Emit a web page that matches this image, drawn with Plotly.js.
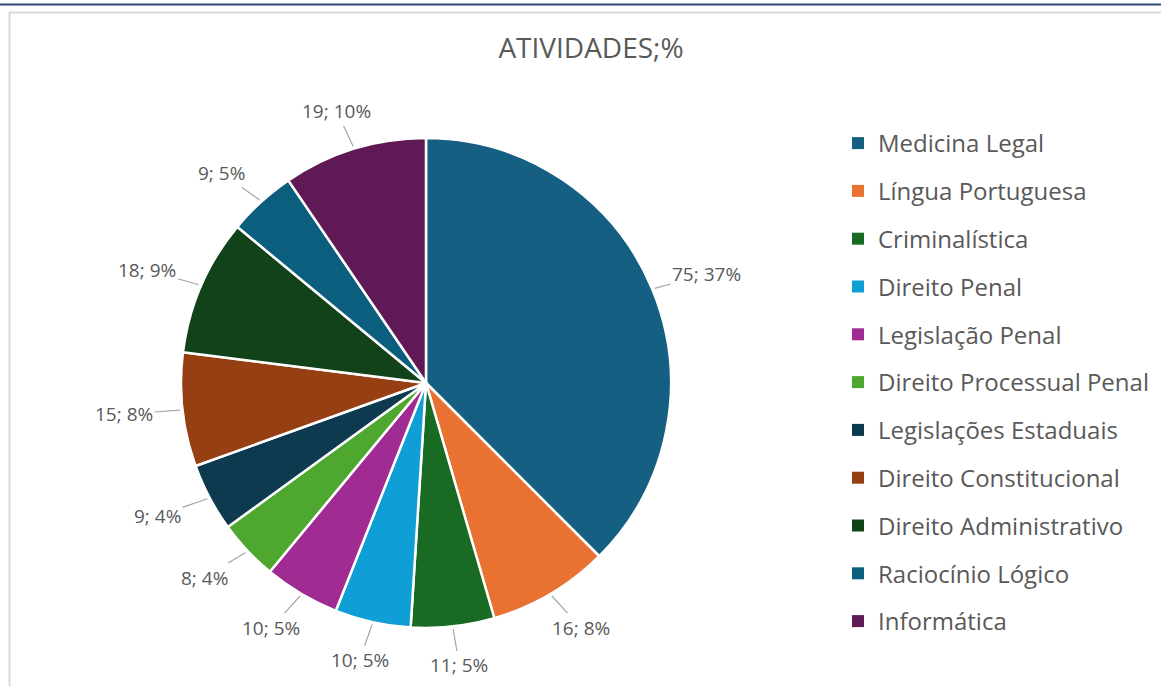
<!DOCTYPE html>
<html>
<head>
<meta charset="utf-8">
<script src="https://cdn.plot.ly/plotly-3.0.1.min.js"></script>
<style>html,body{margin:0;padding:0;background:#fff;}#chart{width:1161px;height:686px;}</style>
</head>
<body>
<div id="chart"></div>
<script>
const categories = ["Medicina Legal","Língua Portuguesa","Criminalística","Direito Penal","Legislação Penal","Direito Processual Penal","Legislações Estaduais","Direito Constitucional","Direito Administrativo","Raciocínio Lógico","Informática"];
const values = [75,16,11,10,10,8,9,15,18,9,19];
const percentLabels = [37,8,5,5,5,4,4,8,9,5,10];
const colors = ["#156082","#E97132","#196B24","#0F9ED5","#A02B93","#4EA72E","#0E3A50","#963F12","#12421A","#0B5E7D","#5F1A56"];
const chartTitle = "ATIVIDADES;%";

const W = 1161, H = 686;
const cx = 426, cy = 383, R = 245;
const K = 1.2; // overlay axis extent in pie radii
const domX = [(cx - R) / W, (cx + R) / W];
const domY = [(H - cy - R) / H, (H - cy + R) / H];
const ovX = [(cx - K * R) / W, (cx + K * R) / W];
const ovY = [(H - cy - K * R) / H, (H - cy + K * R) / H];
const textColor = "#595959";
const fontFam = "'Open Sans', 'Noto Sans', sans-serif";

const traces = [{
  type: "pie",
  labels: categories,
  values: values,
  sort: false,
  direction: "clockwise",
  rotation: 0,
  textinfo: "none",
  hoverinfo: "none",
  showlegend: false,
  marker: {colors: colors, line: {color: "#ffffff", width: 2.5}},
  domain: {x: domX, y: domY}
}];
categories.forEach((c, i) => {
  traces.push({
    type: "scatter", x: [null], y: [null], mode: "markers",
    name: c, legendgroup: "g" + i, showlegend: true, hoverinfo: "skip",
    marker: {symbol: "square", size: 12, color: colors[i]}
  });
});

const total = values.reduce((a, b) => a + b, 0);
const annotations = [];
let cum = 0;
values.forEach((v, i) => {
  const mid = (cum + v / 2) / total * 2 * Math.PI;
  cum += v;
  const s = Math.sin(mid), c = Math.cos(mid);
  annotations.push({
    xref: "x", yref: "y", axref: "x", ayref: "y",
    x: 1.01 * s, y: 1.01 * c, ax: 1.24 * s, ay: 1.16 * c,
    text: v + "; " + percentLabels[i] + "%",
    showarrow: true, arrowhead: 0, arrowwidth: 1.2, arrowcolor: "#a6a6a6",
    standoff: 0, startstandoff: 0,
    font: {family: fontFam, size: 19, color: textColor}
  });
});

const layout = {
  width: W, height: H,
  margin: {l: 0, r: 0, t: 0, b: 0},
  paper_bgcolor: "#ffffff", plot_bgcolor: "rgba(0,0,0,0)",
  title: {text: chartTitle, x: 591 / W, xanchor: "center", y: 1 - 48 / H, yanchor: "middle", yref: "container",
          font: {family: fontFam, size: 28, color: textColor}},
  xaxis: {domain: ovX, range: [-K, K], visible: false, fixedrange: true},
  yaxis: {domain: ovY, range: [-K, K], visible: false, fixedrange: true},
  showlegend: true,
  legend: {x: 838 / W, xanchor: "left", y: 1 - 121 / H, yanchor: "top",
           font: {family: fontFam, size: 24, color: textColor},
           tracegroupgap: 13.6, bgcolor: "rgba(0,0,0,0)", itemclick: false, itemdoubleclick: false},
  annotations: annotations,
  shapes: [
    {type: "line", xref: "paper", yref: "paper", x0: 0, x1: 1, y0: 1 - 4.5 / H, y1: 1 - 4.5 / H, line: {color: "#2F4A78", width: 2}},
    {type: "line", xref: "paper", yref: "paper", x0: 9 / W, x1: 1, y0: 1 - 12.5 / H, y1: 1 - 12.5 / H, line: {color: "#d9d9d9", width: 2}},
    {type: "line", xref: "paper", yref: "paper", x0: 9.5 / W, x1: 9.5 / W, y0: 0, y1: 1 - 12 / H, line: {color: "#d9d9d9", width: 2}}
  ],
  hovermode: false
};

Plotly.newPlot("chart", traces, layout, {displayModeBar: false, staticPlot: true});
</script>
</body>
</html>
